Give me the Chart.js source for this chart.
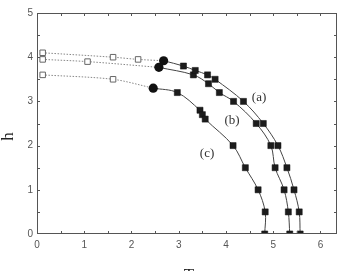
<!DOCTYPE html>
<html><head><meta charset="utf-8">
<script src="https://cdn.jsdelivr.net/npm/chart.js@4"></script>
<style>html,body{margin:0;padding:0;background:#fff}#w{width:342px;height:271px;position:relative}</style>
</head><body><div id="w"><canvas id="c"></canvas></div>
<script>
// axis
const xTickValues=[0,1,2,3,4,5,6];
const yTickValues=[0,1,2,3,4,5];
const xTitle='T', yTitle='h';
// open squares (dotted branch)
const aOpenT=[0.12,1.61,2.14], aOpenH=[4.10,4.00,3.95];
const bOpenT=[0.12,1.07],      bOpenH=[3.95,3.90];
const cOpenT=[0.12,1.61],      cOpenH=[3.60,3.50];
// filled circles (junction points)
const circT=[2.68,2.58,2.46], circH=[3.92,3.77,3.30];
// filled squares (solid branch)
const aT=[3.10,3.35,3.61,3.77,4.37,4.79,5.10,5.29,5.44,5.55,5.57];
const aH=[3.8,3.7,3.6,3.5,3.0,2.5,2.0,1.5,1.0,0.5,0];
const bT=[3.31,3.63,3.86,4.16,4.64,4.95,5.04,5.23,5.32,5.35];
const bH=[3.6,3.4,3.2,3.0,2.5,2.0,1.5,1.0,0.5,0];
const cT=[2.97,3.45,3.50,3.56,4.15,4.41,4.68,4.83,4.82];
const cH=[3.2,2.8,2.7,2.6,2.0,1.5,1.0,0.5,0];
// curve labels
const labelText=['(a)','(b)','(c)'], labelT=[4.70,4.13,3.60], labelH=[3.08,2.56,1.81];

const pts=(T,H)=>T.map((t,i)=>({x:t,y:H[i]}));
const circ=i=>({x:circT[i],y:circH[i]});

const dotted=(T,H,i)=>({type:'line',data:pts(T,H).concat([circ(i)]),borderColor:'#888',borderWidth:1,borderDash:[1.5,1.5],pointRadius:0,tension:0.3,order:3});
const solid=(T,H,i)=>({type:'line',data:[circ(i)].concat(pts(T,H)),borderColor:'#444',borderWidth:1,pointRadius:0,tension:0.35,order:2});
const filled=(T,H)=>({type:'scatter',data:pts(T,H),pointStyle:'rect',pointRadius:4.3,backgroundColor:'#1c1c1c',borderColor:'#111',borderWidth:0.5,order:0});
const open=(T,H)=>({type:'scatter',data:pts(T,H),pointStyle:'rect',pointRadius:3.9,backgroundColor:'#fff',borderColor:'#666',borderWidth:1,order:0});

const deco={
  id:'deco',
  afterDraw(chart){
    const {ctx,chartArea:a,scales:{x,y}}=chart;
    ctx.save();
    ctx.strokeStyle='#555';ctx.lineWidth=1;
    ctx.strokeRect(Math.round(a.left)+0.5,Math.round(a.top)+0.5,Math.round(a.right-a.left)-1,Math.round(a.bottom-a.top)-1);
    ctx.beginPath();
    for(let v=0.5;v<x.max;v+=0.5){
      const px=Math.round(x.getPixelForValue(v))+0.5;
      ctx.moveTo(px,a.bottom);ctx.lineTo(px,a.bottom-3);
      ctx.moveTo(px,a.top);ctx.lineTo(px,a.top+3);
    }
    for(let v=0.5;v<y.max;v+=0.5){
      const py=Math.round(y.getPixelForValue(v))+0.5;
      ctx.moveTo(a.left,py);ctx.lineTo(a.left+3,py);
      ctx.moveTo(a.right,py);ctx.lineTo(a.right-3,py);
    }
    ctx.stroke();
    ctx.fillStyle='#333';
    ctx.font='13px "Liberation Serif", "DejaVu Serif", serif';
    ctx.textAlign='center';ctx.textBaseline='middle';
    labelText.forEach((t,i)=>ctx.fillText(t,x.getPixelForValue(labelT[i]),y.getPixelForValue(labelH[i])));
    ctx.fillStyle='#222';
    ctx.font='17px "Liberation Serif", "DejaVu Serif", serif';
    ctx.textBaseline='alphabetic';
    ctx.fillText(xTitle,(a.left+a.right)/2+2,a.bottom+46);
    ctx.translate(13,(a.top+a.bottom)/2+13);
    ctx.rotate(-Math.PI/2);
    ctx.fillText(yTitle,0,0);
    ctx.restore();
  }
};

new Chart(document.getElementById('c'),{
  data:{datasets:[
    filled(aT,aH),filled(bT,bH),filled(cT,cH),
    open(aOpenT,aOpenH),open(bOpenT,bOpenH),open(cOpenT,cOpenH),
    {type:'scatter',data:pts(circT,circH),pointStyle:'circle',pointRadius:4.6,backgroundColor:'#111',borderColor:'#111',borderWidth:0,order:0},
    solid(aT,aH,0),solid(bT,bH,1),solid(cT,cH,2),
    dotted(aOpenT,aOpenH,0),dotted(bOpenT,bOpenH,1),dotted(cOpenT,cOpenH,2)
  ]},
  options:{
    responsive:true,maintainAspectRatio:false,animation:false,
    layout:{padding:{top:13,right:5,left:0,bottom:0}},
    plugins:{legend:{display:false},tooltip:{enabled:false}},
    scales:{
      x:{type:'linear',min:0,max:6.35,
        afterBuildTicks:s=>{s.ticks=xTickValues.map(v=>({value:v}));},
        afterFit:s=>{s.height=37;},
        grid:{display:false,drawTicks:false},border:{display:false},
        ticks:{font:{family:'"Liberation Sans", Arial, sans-serif',size:10},color:'#555',padding:5,maxRotation:0}},
      y:{type:'linear',min:0,max:5,
        afterBuildTicks:s=>{s.ticks=yTickValues.map(v=>({value:v}));},
        afterFit:s=>{s.width=37;},
        grid:{display:false,drawTicks:false},border:{display:false},
        ticks:{font:{family:'"Liberation Sans", Arial, sans-serif',size:10},color:'#555',padding:4}}
    }
  },
  plugins:[deco]
});
</script></body></html>
